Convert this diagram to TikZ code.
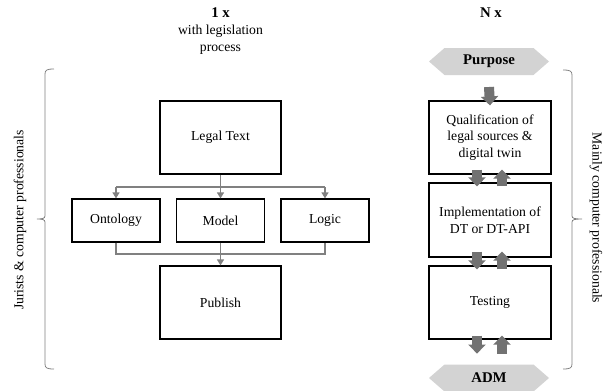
\documentclass[tikz,border=0pt]{standalone}
\usepackage{fontspec}
\setmainfont{Liberation Serif}
\usetikzlibrary{shapes.symbols,arrows.meta}

\definecolor{connGray}{HTML}{808080}
\definecolor{hexFill}{HTML}{D3D3D3}
\definecolor{fatGray}{HTML}{727272}

\tikzset{
  txt/.style={font=\fontsize{13.7}{16.6}\selectfont},
  boldtxt/.style={font=\fontsize{14.8}{17}\selectfont\bfseries},
  stepbox/.style={draw=black, line width=1.2pt, txt, align=center, inner sep=0pt},
  bigbox/.style={stepbox, minimum width=121pt, minimum height=73pt},
  smallbox/.style={stepbox, minimum width=88pt, minimum height=43pt},
  flowbox/.style={stepbox, minimum width=122pt, minimum height=73pt},
  endpoint/.style={signal, signal to=west and east, signal pointer angle=82,
    fill=hexFill, draw=none, minimum width=120pt, minimum height=27pt,
    inner sep=0pt, boldtxt},
  conn/.style={draw=connGray, line width=1.3pt},
  conntip/.style={conn, -{Triangle[width=7pt,length=6pt]}},
  fatarrow/.style={draw=fatGray, line width=10pt,
    -{Triangle[width=17pt,length=9pt]}},
  bracket/.style={draw=connGray, line width=0.8pt},
  sidelabel/.style={txt, anchor=center},
}

\begin{document}
\begin{tikzpicture}[x=1pt, y=-1pt]
  \useasboundingbox (0,0) rectangle (608,391);

  % column headings
  \node[boldtxt] (h1) at (220.5,13) {1 x};
  \node[txt, align=center] (h1sub) at (220.5,40) {with legislation\\process};
  \node[boldtxt] (hn) at (491,13) {N x};

  % one-time modelling chain
  \node[bigbox] (legal) at (220.5,137.5) {Legal Text};
  \node[smallbox] (onto) at (116,220.5) {Ontology};
  \node[smallbox] (model) at (220.5,220.5) {Model};
  \node[smallbox] (logic) at (325,220.5) {Logic};
  \node[bigbox] (publish) at (220.5,302.5) {Publish};

  \coordinate (split) at (220.5,187);
  \coordinate (merge) at (220.5,254);

  \draw[conntip] (legal.south) -- (model.north);
  \draw[conn] (onto.north |- split) -- (logic.north |- split);
  \draw[conntip] (onto.north |- split) -- (onto.north);
  \draw[conntip] (logic.north |- split) -- (logic.north);
  \draw[conn] (onto.south) |- (merge) -| (logic.south);
  \draw[conntip] (model.south) -- (publish.north);

  % repeated development cycle
  \node[endpoint] (purpose) at (489,61.5) {Purpose};
  \node[flowbox] (qual) at (490,137.5) {Qualification of\\legal sources \&\\digital twin};
  \node[flowbox, minimum height=74pt] (impl) at (490,220) {Implementation of\\DT or DT-API};
  \node[flowbox] (test) at (490,302.5) {Testing};
  \node[endpoint] (adm) at (489,378) {ADM};

  \draw[fatarrow] ([shift={(0,25.5)}]purpose.center) -- ([shift={(0,5)}]qual.north);
  \draw[fatarrow] ([shift={(-13,-5)}]qual.south) -- ([shift={(-13,4)}]impl.north);
  \draw[fatarrow] ([shift={(12,4)}]impl.north) -- ([shift={(12,-5)}]qual.south);
  \draw[fatarrow] ([shift={(-13,-6)}]impl.south) -- ([shift={(-13,4)}]test.north);
  \draw[fatarrow] ([shift={(12,4)}]test.north) -- ([shift={(12,-6)}]impl.south);
  \draw[fatarrow] ([shift={(-13,-4)}]test.south) -- ([shift={(-13,14)}]test.south);
  \draw[fatarrow] ([shift={(12,14)}]test.south) -- ([shift={(12,-4)}]test.south);

  % brackets with their group labels
  \draw[bracket] (54,69) .. controls (47,69) and (45,70) .. (45,74)
    -- (45,216) .. controls (45,218.5) and (42,219) .. (37,219)
    .. controls (42,219) and (45,219.5) .. (45,222)
    -- (45,364) .. controls (45,368) and (47,369) .. (54,369);
  \draw[bracket] (563,70) .. controls (570,70) and (572,71) .. (572,75)
    -- (572,216) .. controls (572,218.5) and (575,219) .. (582,219)
    .. controls (575,219) and (572,219.5) .. (572,222)
    -- (572,364) .. controls (572,368) and (570,369) .. (563,369);

  \node[sidelabel, rotate=90] (leftlbl) at (20,220) {Jurists \& computer professionals};
  \node[sidelabel, rotate=-90] (rightlbl) at (596,218) {Mainly computer professionals};
\end{tikzpicture}
\end{document}
